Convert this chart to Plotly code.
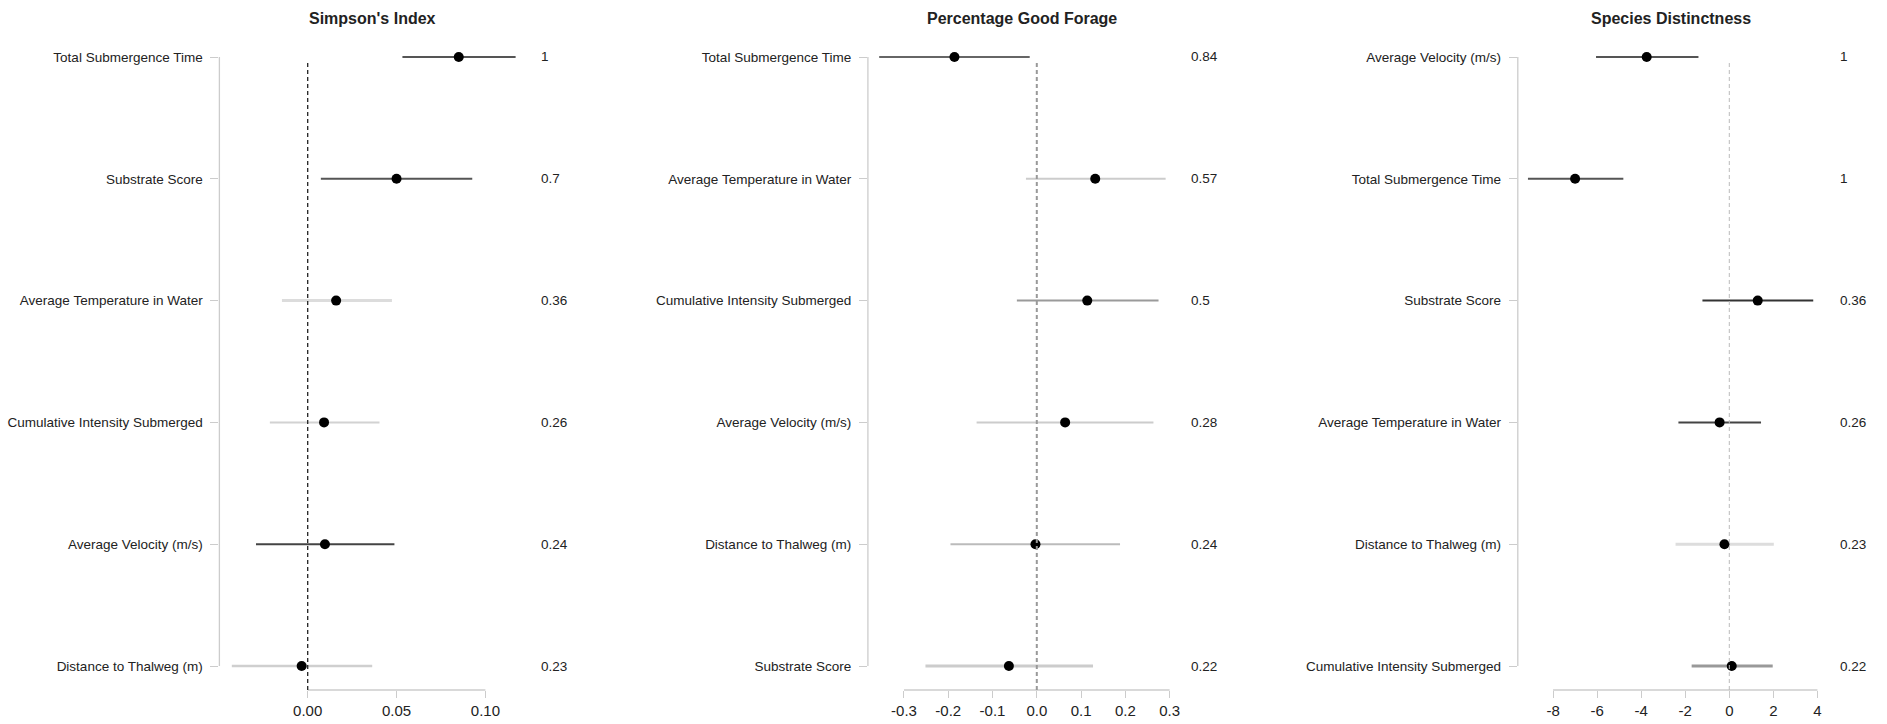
import plotly.graph_objects as go

# ---------------- data ----------------
titles = ["Simpson's Index", "Percentage Good Forage", "Species Distinctness"]

labels1 = ["Total Submergence Time", "Substrate Score", "Average Temperature in Water",
           "Cumulative Intensity Submerged", "Average Velocity (m/s)", "Distance to Thalweg (m)"]
est1 = [0.085, 0.050, 0.016, 0.0092, 0.0097, -0.0034]
lo1 = [0.0533, 0.0074, -0.0145, -0.0213, -0.0291, -0.0427]
hi1 = [0.117, 0.0926, 0.0474, 0.0404, 0.0488, 0.0363]
p1 = ["1", "0.7", "0.36", "0.26", "0.24", "0.23"]
ticks1 = [0.0, 0.05, 0.10]
ticktext1 = ["0.00", "0.05", "0.10"]

labels2 = ["Total Submergence Time", "Average Temperature in Water", "Cumulative Intensity Submerged",
           "Average Velocity (m/s)", "Distance to Thalweg (m)", "Substrate Score"]
est2 = [-0.186, 0.132, 0.114, 0.064, -0.003, -0.063]
lo2 = [-0.356, -0.0245, -0.045, -0.136, -0.195, -0.2515]
hi2 = [-0.016, 0.291, 0.275, 0.2635, 0.188, 0.127]
p2 = ["0.84", "0.57", "0.5", "0.28", "0.24", "0.22"]
ticks2 = [-0.3, -0.2, -0.1, 0.0, 0.1, 0.2, 0.3]
ticktext2 = ["-0.3", "-0.2", "-0.1", "0.0", "0.1", "0.2", "0.3"]

labels3 = ["Average Velocity (m/s)", "Total Submergence Time", "Substrate Score",
           "Average Temperature in Water", "Distance to Thalweg (m)", "Cumulative Intensity Submerged"]
est3 = [-3.75, -7.0, 1.29, -0.44, -0.22, 0.11]
lo3 = [-6.05, -9.14, -1.22, -2.31, -2.44, -1.71]
hi3 = [-1.40, -4.81, 3.81, 1.44, 2.02, 1.97]
p3 = ["1", "1", "0.36", "0.26", "0.23", "0.22"]
ticks3 = [-8, -6, -4, -2, 0, 2, 4]
ticktext3 = ["-8", "-6", "-4", "-2", "0", "2", "4"]

# ---------------- styles ----------------
col1 = ["#555555", "#555555", "#dcdcdc", "#d2d2d2", "#444444", "#cfcfcf"]
col2 = ["#666666", "#cccccc", "#9a9a9a", "#cccccc", "#bbbbbb", "#cccccc"]
col3 = ["#555555", "#555555", "#333333", "#444444", "#dddddd", "#999999"]
wid1 = [2, 2, 3, 2, 2, 2.5]
wid2 = [2, 2, 2, 2, 2, 3]
wid3 = [2, 2, 2, 2, 3, 3]
dash_col = ["#222222", "#999999", "#bbbbbb"]
dash_w = [1.3, 2, 1]

W, H = 1887, 724
FONT = "Liberation Sans, Arial, sans-serif"
TXT = "#222222"

# panel geometry (pixels) and x ranges
xdom_px = [(219.4, 539), (867.9, 1189), (1517.8, 1838)]
xranges = [[-0.04969, 0.13016], [-0.3815, 0.3438], [-9.601, 4.934]]
title_cx = [372.7, 1022.3, 1670.6]
ydom = [1 - 690 / H, 1 - 40 / H]
# rows: 0 at bottom, 5 at top; pixel 666 = row 0, 57 = row 5
row_px = (666 - 57) / 5.0
yrange = [-(690 - 666) / row_px, 5 + (57 - 40) / row_px]
rows = [5, 4, 3, 2, 1, 0]

panels = [
    (labels1, est1, lo1, hi1, p1, ticks1, ticktext1, col1, wid1),
    (labels2, est2, lo2, hi2, p2, ticks2, ticktext2, col2, wid2),
    (labels3, est3, lo3, hi3, p3, ticks3, ticktext3, col3, wid3),
]

fig = go.Figure()
layout = dict(
    width=W, height=H,
    margin=dict(l=0, r=0, t=0, b=0),
    paper_bgcolor="white", plot_bgcolor="white",
    showlegend=False,
    font=dict(family=FONT, color=TXT),
)
shapes = []
annotations = []

for k, (labs, est, lo, hi, pv, tv, tt, cols, wids) in enumerate(panels):
    sx = "" if k == 0 else str(k + 1)
    xa, ya = "x" + sx, "y" + sx
    # CI lines
    for i in range(len(labs)):
        fig.add_trace(go.Scatter(
            x=[lo[i], hi[i]], y=[rows[i], rows[i]], mode="lines",
            line=dict(color=cols[i], width=wids[i]),
            xaxis=xa, yaxis=ya, hoverinfo="skip"))
    # points
    fig.add_trace(go.Scatter(
        x=est, y=rows, mode="markers",
        marker=dict(color="black", size=10),
        xaxis=xa, yaxis=ya, text=labs,
        hovertemplate="%{text}: %{x}<extra></extra>"))

    L, R = xdom_px[k]
    layout["xaxis" + sx] = dict(
        domain=[L / W, R / W], range=xranges[k], anchor=ya,
        showgrid=False, zeroline=False, showline=False,
        tickmode="array", tickvals=tv, ticktext=tt,
        ticks="outside", ticklen=7, tickcolor="#cccccc", tickwidth=1.3,
        tickfont=dict(size=15, color=TXT, family=FONT),
        automargin=False, fixedrange=True)
    layout["yaxis" + sx] = dict(
        domain=ydom, range=yrange, anchor=xa,
        showgrid=False, zeroline=False, showline=False,
        tickmode="array", tickvals=rows, ticktext=labs,
        ticks="outside", ticklen=8, tickcolor="#cccccc", tickwidth=1.3,
        ticklabelstandoff=5,
        tickfont=dict(size=13.5, color=TXT, family=FONT),
        automargin=False, fixedrange=True)

    # x axis line spanning first to last tick
    shapes.append(dict(type="line", xref=xa, yref=ya + " domain",
                       x0=tv[0], x1=tv[-1], y0=0, y1=0,
                       line=dict(color="#cccccc", width=1.3)))
    # y axis line spanning first to last row
    shapes.append(dict(type="line", xref=xa + " domain", yref=ya,
                       x0=0, x1=0, y0=min(rows), y1=max(rows),
                       line=dict(color="#cccccc", width=1.3)))
    # zero reference line
    shapes.append(dict(type="line", xref=xa, yref=ya + " domain",
                       x0=0, x1=0, y0=0, y1=(690 - 60) / 650,
                       line=dict(color=dash_col[k], width=dash_w[k], dash="4px,3px")))
    # p-value labels
    for i in range(len(labs)):
        annotations.append(dict(
            xref=xa + " domain", yref=ya, x=1, y=rows[i],
            text=pv[i], showarrow=False, xanchor="left", yanchor="middle",
            font=dict(size=13.5, color=TXT, family=FONT)))
    # panel title
    annotations.append(dict(
        xref="paper", yref="paper", x=title_cx[k] / W, y=1 - 19 / H,
        text="<b>" + titles[k] + "</b>", showarrow=False,
        xanchor="center", yanchor="middle",
        font=dict(size=16, color=TXT, family=FONT)))

layout["shapes"] = shapes
layout["annotations"] = annotations
fig.update_layout(**layout)
fig.write_html("out.html")
